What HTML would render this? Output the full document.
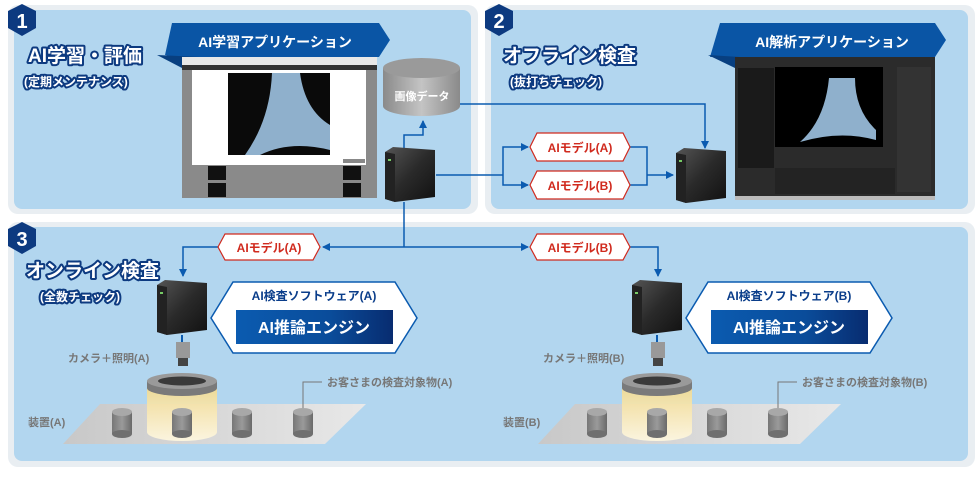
<!DOCTYPE html>
<html><head><meta charset="utf-8"><style>
html,body{margin:0;padding:0;background:#fff;}
svg{display:block;font-family:"Liberation Sans","Noto Sans CJK JP",sans-serif;font-weight:bold;}
</style></head><body>
<svg width="980" height="478" viewBox="0 0 980 478" xmlns="http://www.w3.org/2000/svg">
<defs>
<linearGradient id="srv" x1="0" y1="0" x2="1" y2="1"><stop offset="0" stop-color="#555"/><stop offset="0.5" stop-color="#2a2a2a"/><stop offset="1" stop-color="#111"/></linearGradient>
<linearGradient id="db" x1="0" x2="1"><stop offset="0" stop-color="#8a8a8a"/><stop offset="0.5" stop-color="#c4c4c4"/><stop offset="1" stop-color="#8a8a8a"/></linearGradient>
<linearGradient id="eng" x1="0" x2="1"><stop offset="0" stop-color="#0b5bb0"/><stop offset="0.6" stop-color="#0a4c9a"/><stop offset="1" stop-color="#082c70"/></linearGradient>
<linearGradient id="light" x1="0" y1="0" x2="0" y2="1"><stop offset="0" stop-color="#f3d98a"/><stop offset="1" stop-color="#fff8e0"/></linearGradient>
<linearGradient id="floor" x1="0" x2="1"><stop offset="0" stop-color="#c8c8c8"/><stop offset="1" stop-color="#e8e8e8"/></linearGradient>
<linearGradient id="cyl" x1="0" x2="1"><stop offset="0" stop-color="#777"/><stop offset="0.5" stop-color="#9a9a9a"/><stop offset="1" stop-color="#6a6a6a"/></linearGradient>
<marker id="ar" markerWidth="8" markerHeight="8" refX="7" refY="4" orient="auto" markerUnits="userSpaceOnUse"><path d="M0,0 L8,4 L0,8 z" fill="#0b5bb0"/></marker>
<g id="server"><path d="M0,5 L8,0 L50,3 L50,50 L10,55 L0,52 z" fill="url(#srv)"/><path d="M0,5 L10,7 L10,55 L0,52 z" fill="#222"/><rect x="3" y="12" width="3" height="2" fill="#7c6"/></g>
<g id="cyl1"><rect x="0" y="4" width="20" height="22" fill="url(#cyl)"/><ellipse cx="10" cy="26" rx="10" ry="4" fill="#6f6f6f"/><ellipse cx="10" cy="4" rx="10" ry="4" fill="#a8a8a8"/></g>
<g id="site">
 <polygon points="63,444 100,404 366,404 325,444" fill="url(#floor)"/>
 <path d="M147,385 L147,432 A35,9 0 0 0 217,432 L217,385 z" fill="url(#light)" opacity="0.9"/>
 <use href="#cyl1" x="112" y="408"/><use href="#cyl1" x="172" y="408"/><use href="#cyl1" x="232" y="408"/><use href="#cyl1" x="293" y="408"/>
 <ellipse cx="182" cy="385" rx="35" ry="8" fill="#6e6e6e"/>
 <path d="M147,381 L147,388 A35,8 0 0 0 217,388 L217,381" fill="#7a7a7a"/>
 <ellipse cx="182" cy="381" rx="35" ry="8" fill="#9a9a9a"/>
 <ellipse cx="182" cy="381" rx="24" ry="4.5" fill="#3a3a3a"/>
 <line x1="182" y1="335" x2="182" y2="345" stroke="#0b5bb0" stroke-width="2"/>
 <rect x="176" y="342" width="14" height="16" fill="#999"/><rect x="178" y="358" width="10" height="8" fill="#444"/>
 <polyline points="303,408 303,382 322,382" fill="none" stroke="#777" stroke-width="1"/>
 <use href="#server" x="157" y="280"/>
 <polygon points="233,282 395,282 417,318 395,353 233,353 211,318" fill="#fff" stroke="#0b5bb0" stroke-width="1.5"/>
 <rect x="236" y="310" width="157" height="34" fill="url(#eng)"/>
 <text x="314" y="333" font-size="16" fill="#fff" text-anchor="middle">AI推論エンジン</text>
</g>
</defs>
<!-- panels -->
<rect x="8" y="5" width="470" height="209" rx="10" fill="#e9eef2"/>
<rect x="14" y="10" width="457" height="199" rx="8" fill="#b2d6ef"/>
<rect x="485" y="5" width="490" height="209" rx="10" fill="#e9eef2"/>
<rect x="491" y="10" width="477" height="199" rx="8" fill="#b2d6ef"/>
<rect x="8" y="222" width="967" height="245" rx="10" fill="#e9eef2"/>
<rect x="14" y="227" width="954" height="234" rx="8" fill="#b2d6ef"/>
<!-- badges -->
<g fill="#0d3a80"><polygon points="22,4 36,11 36,28 22,36 8,28 8,11"/><polygon points="499,4 513,11 513,28 499,36 485,28 485,11"/><polygon points="22,222 36,229 36,246 22,254 8,246 8,229"/></g>
<g fill="#fff" font-size="20" text-anchor="middle"><text x="22" y="28">1</text><text x="499" y="28">2</text><text x="22" y="246">3</text></g>
<!-- titles -->
<g fill="#fff" stroke="#0d3a80" stroke-width="4" paint-order="stroke" stroke-linejoin="round">
<text x="28" y="62" font-size="19">AI学習・評価</text><text x="24" y="86" font-size="12">(定期メンテナンス)</text>
<text x="503" y="62" font-size="19">オフライン検査</text><text x="510" y="86" font-size="12">(抜打ちチェック)</text>
<text x="26" y="277" font-size="19">オンライン検査</text><text x="40" y="301" font-size="12">(全数チェック)</text>
</g>
<!-- banners -->
<polygon points="172,23 379,23 390,40 379,57 200,57 175,57 165,55" fill="#0a55a5"/>
<polygon points="157,55 200,57 182,68" fill="#083f80"/>
<text x="275" y="47" font-size="14" fill="#fff" text-anchor="middle">AI学習アプリケーション</text>
<polygon points="720,23 935,23 946,40 935,57 710,57" fill="#0a55a5"/>
<polygon points="708,55 740,57 735,68" fill="#083f80"/>
<text x="832" y="47" font-size="14" fill="#fff" text-anchor="middle">AI解析アプリケーション</text>
<!-- screenshot 1 -->
<rect x="182" y="57" width="195" height="141" fill="#8a8a8a"/>
<rect x="182" y="57" width="195" height="8" fill="#e8e8e8"/>
<rect x="182" y="65" width="195" height="5" fill="#333"/>
<rect x="192" y="70" width="174" height="95" fill="#fff"/>
<rect x="228" y="73" width="102" height="82" fill="#0a0a0a"/>
<path d="M272,73 L300,73 Q305,110 330,125 L330,150 Q290,140 260,155 L245,155 Q270,120 272,73z" fill="#8fb0cc"/>
<rect x="343" y="159" width="22" height="4" fill="#888"/>
<rect x="208" y="166" width="18" height="14" fill="#111"/><rect x="208" y="183" width="18" height="14" fill="#111"/>
<rect x="343" y="166" width="18" height="14" fill="#111"/><rect x="343" y="183" width="18" height="14" fill="#111"/>
<!-- screenshot 2 -->
<rect x="735" y="57" width="200" height="143" fill="#2b2b2b"/>
<rect x="735" y="196" width="200" height="4" fill="#bbb"/>
<rect x="738" y="68" width="36" height="100" fill="#1a1a1a"/>
<rect x="775" y="67" width="108" height="80" fill="#000"/>
<path d="M829,78 L855,78 Q855,110 876,130 L876,140 Q840,130 800,142 Q825,120 829,78z" fill="#8fb0cc"/>
<rect x="897" y="67" width="34" height="125" fill="#333"/>
<rect x="775" y="168" width="120" height="26" fill="#232323"/>
<!-- DB -->
<path d="M383,68 L383,106 A38.5,10 0 0 0 460,106 L460,68 z" fill="url(#db)"/>
<ellipse cx="421.5" cy="68" rx="38.5" ry="10" fill="#9a9a9a"/>
<text x="422" y="100" font-size="11" fill="#fff" text-anchor="middle">画像データ</text>
<!-- connectors -->
<g fill="none" stroke="#0b5bb0" stroke-width="1.5">
<polyline points="404,148 404,135 423,135 423,121" marker-end="url(#ar)"/>
<polyline points="460,104 705,104 705,148" marker-end="url(#ar)"/>
<line x1="436" y1="175" x2="503" y2="175"/>
<polyline points="503,175 503,147 528,147" marker-end="url(#ar)"/>
<polyline points="503,175 503,185 528,185" marker-end="url(#ar)"/>
<polyline points="630,147 647,147 647,185 630,185"/>
<line x1="647" y1="175" x2="673" y2="175" marker-end="url(#ar)"/>
<line x1="404" y1="202" x2="404" y2="247"/>
<line x1="404" y1="247" x2="323" y2="247" marker-end="url(#ar)"/>
<line x1="404" y1="247" x2="528" y2="247" marker-end="url(#ar)"/>
<polyline points="218,247 183,247 183,276" marker-end="url(#ar)"/>
<polyline points="630,247 658,247 658,276" marker-end="url(#ar)"/>
</g>
<!-- model boxes -->
<g fill="#fff" stroke="#d02a1e" stroke-width="1.2">
<polygon points="537,133 623,133 630,147 623,161 537,161 530,147"/>
<polygon points="537,171 623,171 630,185 623,199 537,199 530,185"/>
<polygon points="225,234 313,234 320,247 313,260 225,260 218,247"/>
<polygon points="537,234 623,234 630,247 623,260 537,260 530,247"/>
</g>
<g fill="#d02a1e" font-size="12" text-anchor="middle">
<text x="580" y="152">AIモデル(A)</text><text x="580" y="190">AIモデル(B)</text>
<text x="269" y="252">AIモデル(A)</text><text x="580" y="252">AIモデル(B)</text>
</g>
<!-- servers -->
<use href="#server" x="385" y="147"/>
<use href="#server" x="676" y="148"/>
<!-- sites -->
<use href="#site"/>
<g transform="translate(475,0)"><use href="#site"/></g>
<g font-size="11" fill="#777">
<text x="68" y="362">カメラ＋照明(A)</text>
<text x="327" y="386">お客さまの検査対象物(A)</text>
<text x="28" y="426">装置(A)</text>
<text x="543" y="362">カメラ＋照明(B)</text>
<text x="802" y="386">お客さまの検査対象物(B)</text>
<text x="503" y="426">装置(B)</text>
</g>
<g font-size="12" fill="#0a3d8a" text-anchor="middle">
<text x="314" y="300">AI検査ソフトウェア(A)</text>
<text x="789" y="300">AI検査ソフトウェア(B)</text>
</g>
</svg>
</body></html>
